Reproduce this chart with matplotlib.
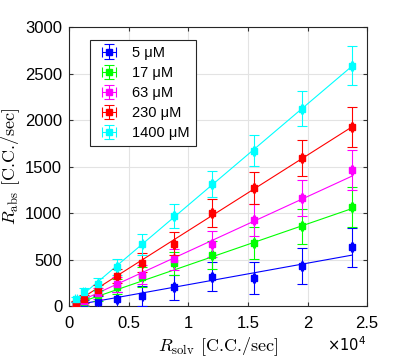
import numpy as np
import matplotlib
matplotlib.use('Agg')
import matplotlib.pyplot as plt

plt.rcParams['font.family'] = ['Liberation Sans', 'DejaVu Sans']
plt.rcParams['mathtext.fontset'] = 'cm'

# solvent rate (C.C./sec) at each measurement
r_solv = np.array([560, 1260, 2400, 4000, 6150, 8800, 11970, 15520, 19520, 23740])

labels = ['5 \u03bcM', '17 \u03bcM', '63 \u03bcM', '230 \u03bcM', '1400 \u03bcM']
colors = ['#0000ff', '#00ff00', '#ff00ff', '#ff0000', '#00ffff']

# measured absorption rates per concentration
r_abs = [
    [10, 21, 46, 72, 111, 201, 315, 304, 430, 631],
    [11, 46, 118, 208, 315, 459, 552, 681, 857, 1061],
    [14, 57, 136, 236, 340, 502, 670, 925, 1165, 1462],
    [29, 79, 172, 323, 466, 670, 1000, 1269, 1591, 1928],
    [72, 147, 237, 423, 663, 968, 1315, 1670, 2122, 2584],
]
# error bars (std) per concentration
r_err = [
    [30, 45, 60, 80, 105, 130, 155, 175, 195, 213],
    [30, 45, 60, 80, 105, 125, 150, 170, 190, 215],
    [30, 45, 60, 80, 105, 115, 140, 170, 195, 215],
    [30, 45, 55, 75, 100, 125, 150, 170, 195, 213],
    [30, 45, 70, 85, 110, 128, 140, 165, 190, 210],
]
# fitted slopes (C.C. absorbed per C.C. solvent)
slopes = [0.0231, 0.0442, 0.0589, 0.0812, 0.1087]

xticks = [0, 5000, 10000, 15000, 20000, 25000]
xticklabels = ['0', '0.5', '1', '1.5', '2', '2.5']
yticks = [0, 500, 1000, 1500, 2000, 2500, 3000]

fig = plt.figure(figsize=(4.07, 3.61), dpi=100)
ax = fig.add_axes([0.170, 0.152, 0.732, 0.773])

for i in range(len(labels)):
    ax.errorbar(r_solv, r_abs[i], yerr=r_err[i], xerr=60, fmt='s', color=colors[i],
                ms=4.5, elinewidth=0.8, capsize=3.5, capthick=0.8, label=labels[i], zorder=3)
    xfit = np.array([r_solv[0], r_solv[-1]])
    ax.plot(xfit, slopes[i] * xfit, '-', color=colors[i], lw=0.8, zorder=2)

ax.set_xlim(0, 25000)
ax.set_ylim(0, 3000)
ax.set_xticks(xticks)
ax.set_xticklabels(xticklabels)
ax.set_yticks(yticks)
ax.text(0.995, -0.105, r'$\times 10^4$', transform=ax.transAxes, ha='right', va='top',
        fontsize=10.5, math_fontfamily='dejavusans')

ax.grid(True, color='#e3e3e3', lw=0.8)
ax.set_axisbelow(True)
ax.tick_params(direction='in', top=True, right=True, labelsize=12, length=3, color='#333333')
ax.tick_params(axis='x', pad=7)
ax.tick_params(axis='y', pad=5)
for s in ax.spines.values():
    s.set_color('#262626')
    s.set_linewidth(0.8)

ax.set_xlabel(r'$R_{\rm solv}$ [C.C./sec]', fontsize=13, fontfamily='cmr10', labelpad=3)
ax.set_ylabel(r'$R_{\rm abs}$ [C.C./sec]', fontsize=13, fontfamily='cmr10', labelpad=2)

leg = ax.legend(loc='upper left', bbox_to_anchor=(0.045, 0.98), fontsize=10.5, fancybox=False,
                edgecolor='#262626', framealpha=1, handlelength=1.8, borderpad=0.4,
                labelspacing=0.42, handletextpad=0.7)
leg.get_frame().set_linewidth(0.8)

fig.savefig('out.png', dpi=100)
